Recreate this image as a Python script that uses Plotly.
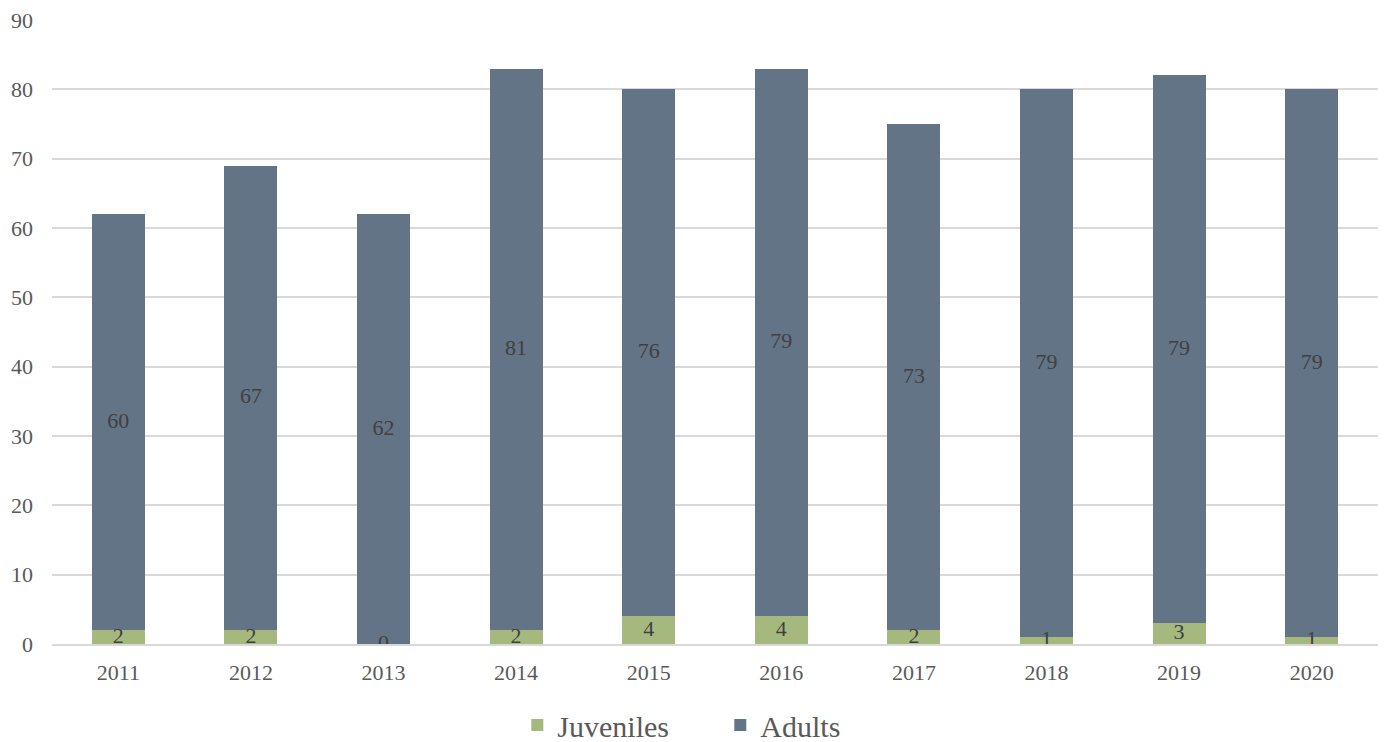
import plotly.graph_objects as go

years = ["2011", "2012", "2013", "2014", "2015", "2016", "2017", "2018", "2019", "2020"]
juveniles = [2, 2, 0, 2, 4, 4, 2, 1, 3, 1]
adults = [60, 67, 62, 81, 76, 79, 73, 79, 79, 79]

GREEN = "#A5B97F"
SLATE = "#637487"
TEXT = "#595959"
FONT = '"Liberation Serif", "Times New Roman", Times, serif'

fig = go.Figure()
fig.add_trace(go.Bar(x=years, y=juveniles, name="Juveniles", marker=dict(color=GREEN, line=dict(width=0)),
                     width=0.4))
fig.add_trace(go.Bar(x=years, y=adults, name="Adults", marker=dict(color=SLATE, line=dict(width=0)),
                     width=0.4))

# value labels centred in each stacked segment
juv_mid = [j / 2 for j in juveniles]
adu_mid = [j + a / 2 for j, a in zip(juveniles, adults)]
fig.add_trace(go.Scatter(x=years, y=juv_mid, text=[str(v) for v in juveniles], mode="text",
                         textfont=dict(family=FONT, size=22, color="#404040"), showlegend=False, hoverinfo="skip"))
fig.add_trace(go.Scatter(x=years, y=adu_mid, text=[str(v) for v in adults], mode="text",
                         textfont=dict(family=FONT, size=22, color="#404040"), showlegend=False, hoverinfo="skip"))

fig.update_layout(
    barmode="stack",
    width=1387, height=742,
    margin=dict(l=52, r=9, t=20, b=98, autoexpand=False),
    paper_bgcolor="white", plot_bgcolor="white",
    font=dict(family=FONT, size=22, color=TEXT),
    showlegend=True,
    legend=dict(orientation="h", x=0.504, xanchor="center", yref="container", y=0.023, yanchor="middle",
                font=dict(family=FONT, size=30, color=TEXT), entrywidth=158, entrywidthmode="pixels",
                itemwidth=30, traceorder="normal"),
    xaxis=dict(showgrid=False, showline=True, linecolor="#D9D9D9", linewidth=1.5,
               ticks="", ticklabelstandoff=8, tickfont=dict(family=FONT, size=22, color=TEXT)),
    yaxis=dict(range=[0, 90], dtick=10, showgrid=True, gridcolor="#D9D9D9", gridwidth=1.5,
               zeroline=False, showline=False, ticks="", ticklabelstandoff=18,
               tickfont=dict(family=FONT, size=22, color=TEXT)),
)

fig.write_html("out.html")
